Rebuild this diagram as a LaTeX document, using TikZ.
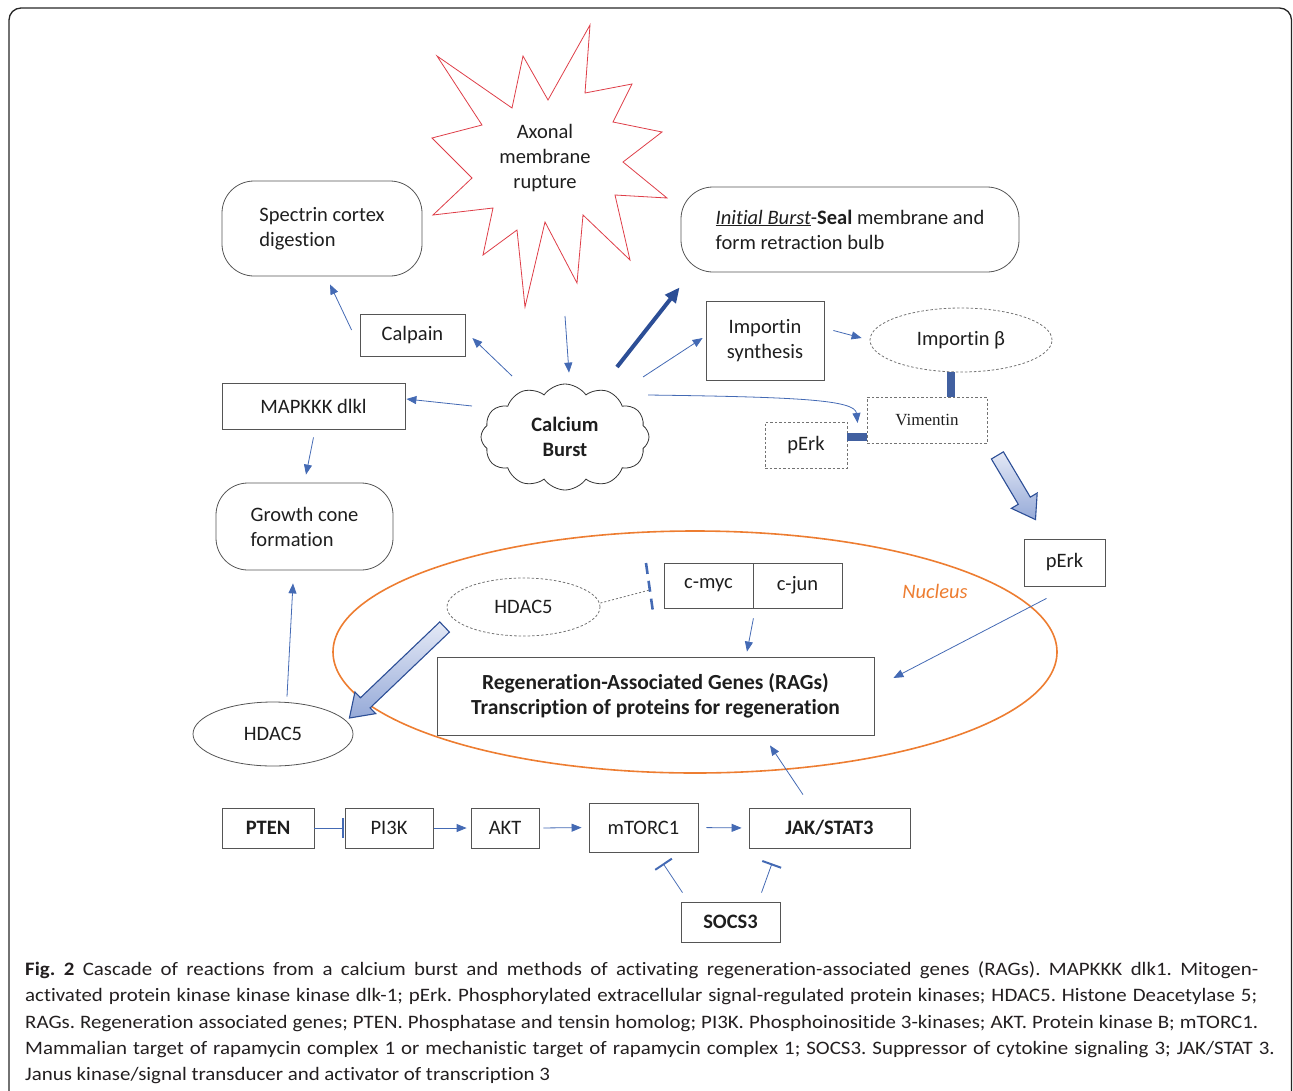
\documentclass[tikz,border=0pt]{standalone}
\usepackage{fontspec}
\setmainfont[Ligatures=NoCommon]{Carlito}
\newfontfamily\vimfont{Liberation Serif}
\usetikzlibrary{shapes.geometric,shapes.symbols,arrows.meta,calc}
\definecolor{arrblue}{RGB}{68,106,180}
\definecolor{darkblue}{RGB}{44,78,150}
\definecolor{starred}{RGB}{222,62,72}
\definecolor{nucorange}{RGB}{237,125,49}
\definecolor{boxgray}{RGB}{85,85,85}
\definecolor{txt}{RGB}{30,30,30}
\frenchspacing
\newcommand\dfont{\fontsize{20.5}{25}\selectfont}
\newcommand\fatarrow[2]{%
  \coordinate (fatH) at ($(#2)!22pt!(#1)$);
  \shadedraw[fatstyle] ($(#1)!7pt!90:(#2)$) -- ($(fatH)!7pt!90:(#2)$) -- ($(fatH)!15pt!90:(#2)$) -- (#2) -- ($(fatH)!15pt!-90:(#2)$) -- ($(fatH)!7pt!-90:(#2)$) -- ($(#1)!7pt!-90:(#2)$) -- cycle;}
\newcommand\capline[3]{\scalebox{1.1}[1]{\makebox[#1pt][#2]{#3}}}
\begin{document}
\begin{tikzpicture}[x=1pt,y=-1pt,
  every node/.style={text=txt},
  box/.style={draw=boxgray, line width=0.8pt, inner sep=0pt, font=\dfont, align=center},
  rbox/.style={box, rounded corners=32pt, align=left},
  dbox/.style={box, draw=black!55, dash pattern=on 2.5pt off 2pt},
  arr/.style={-{Triangle[length=10pt,width=8pt]}, draw=arrblue, line width=0.8pt},
  inh/.style={-{Bar[width=20pt,line width=2pt]}, draw=arrblue, line width=0.8pt},
  fatstyle/.style={draw=darkblue, line width=1.1pt, top color={rgb,255:red,228;green,233;blue,246}, bottom color={rgb,255:red,150;green,170;blue,216}},
  thickbar/.style={draw=darkblue!90, line width=8pt}
]
\useasboundingbox (0,0) rectangle (1293,1090);
% outer frame
\draw[black!85, line width=1.3pt, rounded corners=12pt] (9,1100) -- (9,8) -- (1291.5,8) -- (1291.5,1100);

% star
\draw[starred, line width=0.8pt] (590,25) -- (585,93) -- (632,84) -- (613,122) -- (662,132) -- (623,162) -- (667,198) -- (615,195) -- (630,260) -- (583,215) -- (577,283) -- (545,222) -- (525,307) -- (517,230) -- (483,255) -- (493,208) -- (433,215) -- (472,178) -- (432,138) -- (482,125) -- (437,56) -- (512,108) -- (523,56) -- (548,100) -- cycle;
\node[font=\dfont, align=center] (star) at (545,158) {Axonal\\membrane\\rupture};
\coordinate (starbot) at (565,316);

% upper nodes
\node[rbox, minimum width=200pt, minimum height=95pt] (spec) at (322,228.5) {Spectrin cortex\\digestion};
\node[rbox, minimum width=338pt, minimum height=85pt] (init) at (850,229.5) {\underline{\textit{Initial Burst}}-\textbf{Seal} membrane and\\form retraction bulb};
\node[box, minimum width=105pt, minimum height=42pt] (calpain) at (412.5,335) {Calpain};
\node[box, minimum width=183pt, minimum height=46pt] (mapk) at (313.5,406) {MAPKKK dlkl};
\node[rbox, minimum width=177pt, minimum height=87pt] (growth) at (304.5,526.5) {Growth cone\\formation};
\node[cloud, cloud puffs=12, cloud puff arc=110, aspect=1.55, draw=black!80, line width=0.8pt, minimum width=168pt, minimum height=106pt, inner sep=0pt, font=\dfont\bfseries, align=center] (calc) at (565,437) {Calcium\\Burst};
\node[box, minimum width=118pt, minimum height=79pt] (imps) at (765,340.5) {Importin\\synthesis};
\node[dbox, ellipse, minimum width=182pt, minimum height=64pt] (impb) at (961,340) {Importin β};
\node[dbox, minimum width=120pt, minimum height=46pt, font=\vimfont\fontsize{17}{20}\selectfont] (vim) at (927,420) {Vimentin};
\node[dbox, minimum width=82pt, minimum height=46pt] (perka) at (806,445) {pErk};
\node[box, minimum width=81pt, minimum height=47pt] (perkb) at (1064.5,562.5) {pErk};

% nucleus
\draw[nucorange, line width=1.6pt] (695,652) ellipse [x radius=362pt, y radius=121pt];
\node[font=\dfont\itshape, text=nucorange] (nuc) at (935,591) {Nucleus};
\node[dbox, ellipse, minimum width=153pt, minimum height=58pt] (hdi) at (523.5,607) {HDAC5};
\node[box, minimum width=89pt, minimum height=45pt] (cmyc) at (708.5,585.5) {c-myc};
\node[box, minimum width=89pt, minimum height=45pt] (cjun) at (797.5,585.5) {c-jun};
\node[box, minimum width=437pt, minimum height=78pt, font=\fontsize{21.5}{25}\selectfont\bfseries] (rags) at (655.5,696) {Regeneration-Associated Genes (RAGs)\\Transcription of proteins for regeneration};
\node[box, ellipse, minimum width=160pt, minimum height=64pt] (hdo) at (273,734) {HDAC5};

% bottom row
\node[box, minimum width=92pt, minimum height=40pt, font=\dfont\bfseries] (pten) at (268,828) {PTEN};
\node[box, minimum width=88pt, minimum height=40pt] (pi3k) at (389,828) {PI3K};
\node[box, minimum width=68pt, minimum height=40pt] (akt) at (505,828) {AKT};
\node[box, minimum width=109pt, minimum height=49pt] (mtor) at (643.5,827.5) {mTORC1};
\node[box, minimum width=161pt, minimum height=40pt, font=\dfont\bfseries] (jak) at (829.5,828) {JAK/STAT3};
\node[box, minimum width=99pt, minimum height=40pt, font=\dfont\bfseries] (socs) at (730.5,922) {SOCS3};

% connectors
\draw[arr] (starbot) -- ($(calc.north)+(4,-11)$);
\draw[arr] ($(calc.center)+(-53,-61)$) -- ($(calpain.east)+(7,3)$);
\draw[arr] ($(calpain.west)+(-8,-5)$) -- ($(spec.south)+(8,8)$);
\draw[arr] ($(calc.center)+(-93,-31)$) -- ($(mapk.east)+(1,-7)$);
\draw[arr] ($(mapk.south)+(0,8)$) -- ($(growth.north)+(1.5,-8)$);
\draw[arr] ($(hdo.north)+(14,-5)$) -- ($(growth.south)+(-11.5,13)$);
\draw[-{Triangle[length=15pt,width=13pt]}, draw=darkblue, line width=4pt] ($(calc.center)+(52,-70)$) -- ($(init.south west)+(-1,15)$);
\draw[arr] ($(calc.center)+(78,-60)$) -- ($(imps.west)+(-3,-2.5)$);
\draw[arr] ($(imps.east)+(9,-10)$) -- ($(impb.west)+(-8,-2)$);
\draw[arr] ($(calc.center)+(83,-42)$) .. controls (800,397) and (855,400) .. ($(vim.west)+(-9,3)$);
\draw[thickbar] ([xshift=-10pt]impb.south) -- ([xshift=-10pt]impb.south |- vim.north);
\draw[thickbar] ([yshift=8pt]perka.east) -- ([yshift=8pt]perka.east -| vim.west);
\coordinate (fa1) at ($(vim.south east)+(10,12)$);
\coordinate (fb1) at ($(perkb.north)+(-29,-19)$);
\fatarrow{fa1}{fb1}
\draw[arr] ($(perkb.south)+(-18,12)$) -- ($(rags.east)+(19,-18)$);
\coordinate (fa2) at ($(hdi.west)+(-2,20)$);
\coordinate (fb2) at ($(hdo.east)+(-4,-16)$);
\fatarrow{fa2}{fb2}
\coordinate (hbar1) at (646,563);
\coordinate (hbar2) at (653,612);
\draw[black!55, dash pattern=on 2pt off 2pt, line width=0.8pt] ($(hdi.east)+(0,-4)$) -- ($(hbar1)!0.55!(hbar2)$);
\draw[arrblue, line width=2.6pt, dash pattern=on 11pt off 7pt] (hbar1) -- (hbar2);
\draw[arr] ($(cmyc.south east)+(0,10)$) -- ($(rags.north)+(91.5,-5)$);
\draw[arr] ($(jak.north)+(-26.5,-13)$) -- ($(rags.south)+(114.5,10)$);

\draw[inh, shorten >=1pt] (pten.east) -- (pi3k.west);
\draw[arr, shorten <=1pt, shorten >=4pt] (pi3k.east) -- (akt.west);
\draw[arr, shorten <=4pt, shorten >=7pt] (akt.east) -- (mtor.west);
\draw[arr, shorten <=8pt, shorten >=7pt] (mtor.east) -- (jak.west);
\draw[inh] ($(socs.north)+(-48,-9)$) -- ($(mtor.south)+(19.5,11)$);
\draw[inh] ($(socs.north)+(31,-9)$) -- ($(jak.south)+(-57.5,15)$);

% caption
\begin{scope}[every node/.style={anchor=base west, inner sep=0pt, text={rgb,255:red,35;green,31;blue,32}, font=\fontsize{19}{26}\selectfont}]
\node (c1) at (25,975) {\capline{1121}{s}{\textbf{Fig. 2} Cascade of reactions from a calcium burst and methods of activating regeneration-associated genes (RAGs). MAPKKK dlk1. Mitogen-}};
\node (c2) at (25,1001) {\capline{1120}{s}{activated protein kinase kinase kinase dlk-1; pErk. Phosphorylated extracellular signal-regulated protein kinases; HDAC5. Histone Deacetylase 5;}};
\node (c3) at (25,1028) {\capline{1121}{s}{RAGs. Regeneration associated genes; PTEN. Phosphatase and tensin homolog; PI3K. Phosphoinositide 3-kinases; AKT. Protein kinase B; mTORC1.}};
\node (c4) at (25,1054) {\capline{1136}{s}{Mammalian target of rapamycin complex 1 or mechanistic target of rapamycin complex 1; SOCS3. Suppressor of cytokine signaling 3; JAK/STAT 3.}};
\node (c5) at (25,1080) {\capline{470}{l}{Janus kinase/signal transducer and activator of transcription 3}};
\end{scope}
\end{tikzpicture}
\end{document}
